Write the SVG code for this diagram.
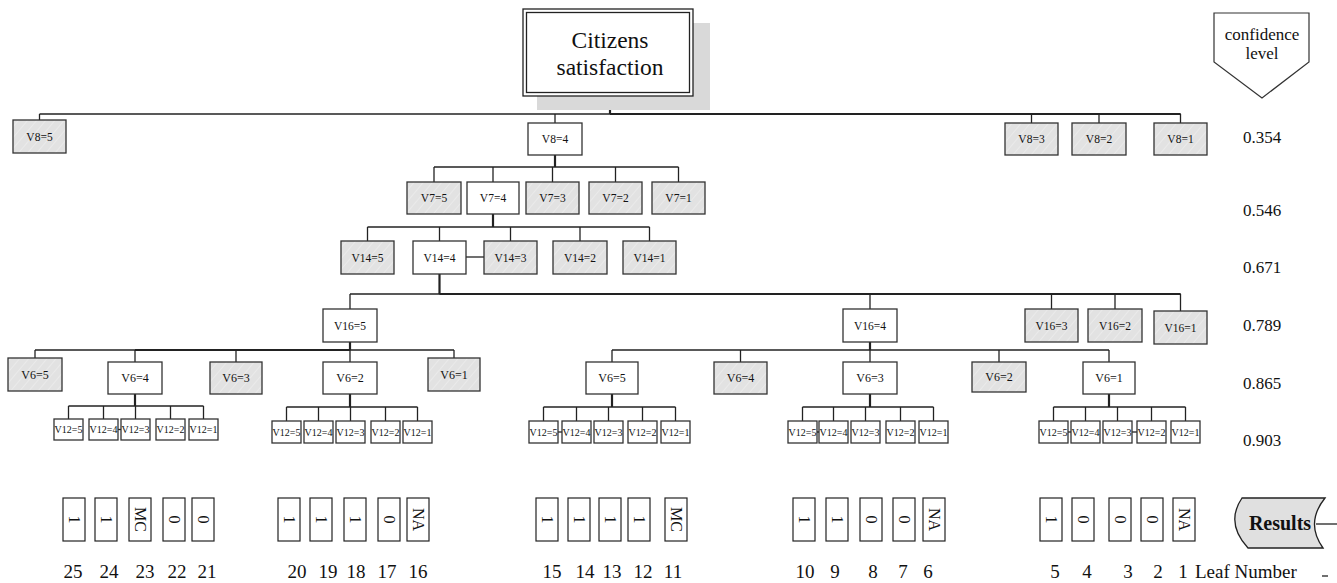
<svg xmlns="http://www.w3.org/2000/svg" width="1337" height="583" viewBox="0 0 1337 583">
<defs>
<pattern id="hatch" patternUnits="userSpaceOnUse" width="7" height="7" patternTransform="rotate(40)">
<rect width="7" height="7" fill="#e2e2e2"/>
<line x1="0" y1="0" x2="0" y2="7" stroke="#f3f3f3" stroke-width="1"/>
</pattern>
<style>
.w{fill:#fff;stroke:#333;stroke-width:1.3}
.h{fill:url(#hatch);stroke:#333;stroke-width:1.3}
.r{fill:#fff;stroke:#222;stroke-width:1.2}
text{font-family:"Liberation Serif","Times New Roman",serif;fill:#111}
.t{font-size:11.5px;text-anchor:middle}
.t6{font-size:12px;text-anchor:middle}
.t12{font-size:10px;text-anchor:middle}
.rt{font-size:16px;text-anchor:middle;dominant-baseline:central}
.n{font-size:19px;text-anchor:middle}
.c{font-size:17px}
#connectors line,#connectors polyline{stroke:#222;stroke-width:1.3;fill:none}
#connectors .k{stroke-width:2.2}
</style>
</defs>
<rect width="1337" height="583" fill="#fff"/>

<g id="connectors">
<line class="k" x1="610" y1="96" x2="610" y2="114"/>
<line x1="39.5" y1="114" x2="1180.5" y2="114"/>
<line class="k" x1="610" y1="114" x2="1180.5" y2="114"/>
<line x1="39.5" y1="114" x2="39.5" y2="120"/>
<line x1="555" y1="114" x2="555" y2="123"/>
<line x1="1031.5" y1="114" x2="1031.5" y2="123"/>
<line x1="1099" y1="114" x2="1099" y2="123"/>
<line x1="1180.5" y1="114" x2="1180.5" y2="123"/>

<line class="k" x1="555" y1="155" x2="555" y2="167"/>
<line x1="434" y1="167" x2="678.5" y2="167"/>
<line x1="434" y1="167" x2="434" y2="182"/>
<line x1="493" y1="167" x2="493" y2="182"/>
<line x1="552.5" y1="167" x2="552.5" y2="182"/>
<line x1="615.5" y1="167" x2="615.5" y2="182"/>
<line x1="678.5" y1="167" x2="678.5" y2="182"/>

<line class="k" x1="493" y1="214" x2="493" y2="227"/>
<line x1="367.5" y1="227" x2="649.5" y2="227"/>
<line x1="367.5" y1="227" x2="367.5" y2="241"/>
<line x1="439.5" y1="227" x2="439.5" y2="241"/>
<line x1="510.5" y1="227" x2="510.5" y2="241"/>
<line x1="580" y1="227" x2="580" y2="241"/>
<line x1="649.5" y1="227" x2="649.5" y2="241"/>
<line x1="466" y1="257" x2="484" y2="257"/>

<line class="k" x1="439.5" y1="274" x2="439.5" y2="294"/>
<line x1="350" y1="294" x2="1180.5" y2="294"/>
<line class="k" x1="439.5" y1="294" x2="1180.5" y2="294"/>
<line x1="350" y1="294" x2="350" y2="309"/>
<line x1="870" y1="294" x2="870" y2="309"/>
<line x1="1051.5" y1="294" x2="1051.5" y2="309"/>
<line x1="1115" y1="294" x2="1115" y2="309"/>
<line x1="1180.5" y1="294" x2="1180.5" y2="311"/>

<line class="k" x1="350" y1="342" x2="350" y2="350"/>
<line x1="35" y1="350" x2="454" y2="350"/>
<line class="k" x1="135" y1="350" x2="350" y2="350"/>
<line x1="35" y1="350" x2="35" y2="358"/>
<line x1="135" y1="350" x2="135" y2="362"/>
<line x1="236" y1="350" x2="236" y2="362"/>
<line x1="350" y1="350" x2="350" y2="362"/>
<line x1="454" y1="350" x2="454" y2="358"/>

<line class="k" x1="870" y1="342" x2="870" y2="350"/>
<line x1="612" y1="350" x2="1109" y2="350"/>
<line x1="612" y1="350" x2="612" y2="362"/>
<line x1="740.5" y1="350" x2="740.5" y2="362"/>
<line x1="870" y1="350" x2="870" y2="362"/>
<line x1="999" y1="350" x2="999" y2="362"/>
<line x1="1109" y1="350" x2="1109" y2="362"/>

<line class="k" x1="135" y1="394" x2="135" y2="406"/>
<line x1="68.5" y1="406" x2="203.5" y2="406"/>
<line x1="68.5" y1="406" x2="68.5" y2="419"/>
<line x1="103.5" y1="406" x2="103.5" y2="419"/>
<line x1="135.5" y1="406" x2="135.5" y2="419"/>
<line x1="170.5" y1="406" x2="170.5" y2="419"/>
<line x1="203.5" y1="406" x2="203.5" y2="419"/>
<line x1="118" y1="429.5" x2="121" y2="429.5"/>

<line class="k" x1="350" y1="394" x2="350" y2="407"/>
<line x1="286.5" y1="407" x2="417.5" y2="407"/>
<line x1="286.5" y1="407" x2="286.5" y2="421"/>
<line x1="318.5" y1="407" x2="318.5" y2="421"/>
<line x1="350.5" y1="407" x2="350.5" y2="421"/>
<line x1="385.5" y1="407" x2="385.5" y2="421"/>
<line x1="417.5" y1="407" x2="417.5" y2="421"/>

<line class="k" x1="612" y1="394" x2="612" y2="407"/>
<line x1="543.5" y1="407" x2="675.5" y2="407"/>
<line x1="543.5" y1="407" x2="543.5" y2="421"/>
<line x1="576.5" y1="407" x2="576.5" y2="421"/>
<line x1="608.5" y1="407" x2="608.5" y2="421"/>
<line x1="642.5" y1="407" x2="642.5" y2="421"/>
<line x1="675.5" y1="407" x2="675.5" y2="421"/>
<line x1="558" y1="432" x2="562" y2="432"/>

<line class="k" x1="870" y1="394" x2="870" y2="407"/>
<line x1="802.5" y1="407" x2="933.5" y2="407"/>
<line x1="802.5" y1="407" x2="802.5" y2="421"/>
<line x1="833.5" y1="407" x2="833.5" y2="421"/>
<line x1="865.5" y1="407" x2="865.5" y2="421"/>
<line x1="900.5" y1="407" x2="900.5" y2="421"/>
<line x1="933.5" y1="407" x2="933.5" y2="421"/>
<line x1="817" y1="432" x2="819" y2="432"/>

<line class="k" x1="1109" y1="394" x2="1109" y2="407"/>
<line x1="1053.5" y1="407" x2="1185.5" y2="407"/>
<line x1="1053.5" y1="407" x2="1053.5" y2="421"/>
<line x1="1085.5" y1="407" x2="1085.5" y2="421"/>
<line x1="1117.5" y1="407" x2="1117.5" y2="421"/>
<line x1="1151.5" y1="407" x2="1151.5" y2="421"/>
<line x1="1185.5" y1="407" x2="1185.5" y2="421"/>
<line x1="1068" y1="432" x2="1071" y2="432"/>
<line x1="1132" y1="432" x2="1137" y2="432"/>

<line x1="1316" y1="524" x2="1337" y2="524"/>
<line x1="1322" y1="576" x2="1328" y2="576"/>
</g>

<g id="root">
<rect x="537" y="23" width="173" height="87" fill="#d9d9d9"/>
<rect x="523" y="9" width="170" height="87" fill="#fff" stroke="#222" stroke-width="1.3"/>
<rect x="526.5" y="12.5" width="163" height="80" fill="none" stroke="#222" stroke-width="1.3"/>
<text x="610" y="48" font-size="23.5" text-anchor="middle">Citizens</text>
<text x="610" y="75" font-size="23.5" text-anchor="middle">satisfaction</text>
</g>

<g id="confidence-level">
<polygon points="1214,13 1309,13 1309,62 1262,98 1214,62" fill="#fff" stroke="#333" stroke-width="1.2"/>
<text x="1262" y="40" font-size="17" text-anchor="middle">confidence</text>
<text x="1262" y="59" font-size="17" text-anchor="middle">level</text>
</g>

<g id="levels">
<text class="c" x="1243" y="143">0.354</text>
<text class="c" x="1243" y="216">0.546</text>
<text class="c" x="1243" y="273">0.671</text>
<text class="c" x="1243" y="331">0.789</text>
<text class="c" x="1243" y="389">0.865</text>
<text class="c" x="1243" y="446">0.903</text>
</g>

<g id="n-v8-5"><rect class="h" x="13" y="120" width="53" height="33"/><text class="t" x="39.5" y="140.5">V8=5</text></g>
<g id="n-v8-4"><rect class="w" x="528" y="123" width="54" height="32"/><text class="t" x="555" y="143">V8=4</text></g>
<g id="n-v8-3"><rect class="h" x="1005" y="123" width="53" height="32"/><text class="t" x="1031.5" y="143">V8=3</text></g>
<g id="n-v8-2"><rect class="h" x="1072" y="123" width="54" height="32"/><text class="t" x="1099" y="143">V8=2</text></g>
<g id="n-v8-1"><rect class="h" x="1154" y="123" width="53" height="32"/><text class="t" x="1180.5" y="143">V8=1</text></g>

<g id="n-v7-5"><rect class="h" x="407" y="182" width="54" height="32"/><text class="t" x="434" y="202">V7=5</text></g>
<g id="n-v7-4"><rect class="w" x="467" y="182" width="52" height="32"/><text class="t" x="493" y="202">V7=4</text></g>
<g id="n-v7-3"><rect class="h" x="526" y="182" width="53" height="32"/><text class="t" x="552.5" y="202">V7=3</text></g>
<g id="n-v7-2"><rect class="h" x="589" y="182" width="53" height="32"/><text class="t" x="615.5" y="202">V7=2</text></g>
<g id="n-v7-1"><rect class="h" x="652" y="182" width="53" height="32"/><text class="t" x="678.5" y="202">V7=1</text></g>

<g id="n-v14-5"><rect class="h" x="341" y="241" width="53" height="33"/><text class="t" x="367.5" y="261.5">V14=5</text></g>
<g id="n-v14-4"><rect class="w" x="413" y="241" width="53" height="33"/><text class="t" x="439.5" y="261.5">V14=4</text></g>
<g id="n-v14-3"><rect class="h" x="484" y="241" width="53" height="33"/><text class="t" x="510.5" y="261.5">V14=3</text></g>
<g id="n-v14-2"><rect class="h" x="553" y="241" width="54" height="33"/><text class="t" x="580" y="261.5">V14=2</text></g>
<g id="n-v14-1"><rect class="h" x="623" y="241" width="53" height="33"/><text class="t" x="649.5" y="261.5">V14=1</text></g>

<g id="n-v16-5"><rect class="w" x="323" y="309" width="54" height="33"/><text class="t" x="350" y="329.5">V16=5</text></g>
<g id="n-v16-4"><rect class="w" x="843" y="309" width="54" height="33"/><text class="t" x="870" y="329.5">V16=4</text></g>
<g id="n-v16-3"><rect class="h" x="1025" y="309" width="53" height="33"/><text class="t" x="1051.5" y="329.5">V16=3</text></g>
<g id="n-v16-2"><rect class="h" x="1088" y="309" width="54" height="33"/><text class="t" x="1115" y="329.5">V16=2</text></g>
<g id="n-v16-1"><rect class="h" x="1154" y="311" width="53" height="33"/><text class="t" x="1180.5" y="331.5">V16=1</text></g>

<g id="n-a-v6-5"><rect class="h" x="8" y="358" width="54" height="33"/><text class="t6" x="35" y="378.5">V6=5</text></g>
<g id="n-a-v6-4"><rect class="w" x="108" y="362" width="54" height="32"/><text class="t6" x="135" y="382">V6=4</text></g>
<g id="n-a-v6-3"><rect class="h" x="210" y="362" width="52" height="32"/><text class="t6" x="236" y="382">V6=3</text></g>
<g id="n-a-v6-2"><rect class="w" x="323" y="362" width="54" height="32"/><text class="t6" x="350" y="382">V6=2</text></g>
<g id="n-a-v6-1"><rect class="h" x="428" y="358" width="52" height="33"/><text class="t6" x="454" y="378.5">V6=1</text></g>

<g id="n-b-v6-5"><rect class="w" x="586" y="362" width="52" height="32"/><text class="t6" x="612" y="382">V6=5</text></g>
<g id="n-b-v6-4"><rect class="h" x="714" y="362" width="53" height="32"/><text class="t6" x="740.5" y="382">V6=4</text></g>
<g id="n-b-v6-3"><rect class="w" x="843" y="362" width="54" height="32"/><text class="t6" x="870" y="382">V6=3</text></g>
<g id="n-b-v6-2"><rect class="h" x="972" y="362" width="54" height="30"/><text class="t6" x="999" y="381">V6=2</text></g>
<g id="n-b-v6-1"><rect class="w" x="1083" y="362" width="52" height="32"/><text class="t6" x="1109" y="382">V6=1</text></g>

<g id="n-a-v12-5"><rect class="w" x="54" y="419" width="29" height="21"/><text class="t12" x="68.5" y="433">V12=5</text></g>
<g id="n-a-v12-4"><rect class="w" x="89" y="419" width="29" height="21"/><text class="t12" x="103.5" y="433">V12=4</text></g>
<g id="n-a-v12-3"><rect class="w" x="121" y="419" width="29" height="21"/><text class="t12" x="135.5" y="433">V12=3</text></g>
<g id="n-a-v12-2"><rect class="w" x="156" y="419" width="29" height="21"/><text class="t12" x="170.5" y="433">V12=2</text></g>
<g id="n-a-v12-1"><rect class="w" x="189" y="419" width="29" height="21"/><text class="t12" x="203.5" y="433">V12=1</text></g>

<g id="n-b-v12-5"><rect class="w" x="272" y="421" width="29" height="22"/><text class="t12" x="286.5" y="435.5">V12=5</text></g>
<g id="n-b-v12-4"><rect class="w" x="304" y="421" width="29" height="22"/><text class="t12" x="318.5" y="435.5">V12=4</text></g>
<g id="n-b-v12-3"><rect class="w" x="336" y="421" width="29" height="22"/><text class="t12" x="350.5" y="435.5">V12=3</text></g>
<g id="n-b-v12-2"><rect class="w" x="371" y="421" width="29" height="22"/><text class="t12" x="385.5" y="435.5">V12=2</text></g>
<g id="n-b-v12-1"><rect class="w" x="403" y="421" width="29" height="22"/><text class="t12" x="417.5" y="435.5">V12=1</text></g>

<g id="n-c-v12-5"><rect class="w" x="529" y="421" width="29" height="22"/><text class="t12" x="543.5" y="435.5">V12=5</text></g>
<g id="n-c-v12-4"><rect class="w" x="562" y="421" width="29" height="22"/><text class="t12" x="576.5" y="435.5">V12=4</text></g>
<g id="n-c-v12-3"><rect class="w" x="594" y="421" width="29" height="22"/><text class="t12" x="608.5" y="435.5">V12=3</text></g>
<g id="n-c-v12-2"><rect class="w" x="628" y="421" width="29" height="22"/><text class="t12" x="642.5" y="435.5">V12=2</text></g>
<g id="n-c-v12-1"><rect class="w" x="661" y="421" width="29" height="22"/><text class="t12" x="675.5" y="435.5">V12=1</text></g>

<g id="n-d-v12-5"><rect class="w" x="788" y="421" width="29" height="22"/><text class="t12" x="802.5" y="435.5">V12=5</text></g>
<g id="n-d-v12-4"><rect class="w" x="819" y="421" width="29" height="22"/><text class="t12" x="833.5" y="435.5">V12=4</text></g>
<g id="n-d-v12-3"><rect class="w" x="851" y="421" width="29" height="22"/><text class="t12" x="865.5" y="435.5">V12=3</text></g>
<g id="n-d-v12-2"><rect class="w" x="886" y="421" width="29" height="22"/><text class="t12" x="900.5" y="435.5">V12=2</text></g>
<g id="n-d-v12-1"><rect class="w" x="919" y="421" width="29" height="22"/><text class="t12" x="933.5" y="435.5">V12=1</text></g>

<g id="n-e-v12-5"><rect class="w" x="1039" y="421" width="29" height="22"/><text class="t12" x="1053.5" y="435.5">V12=5</text></g>
<g id="n-e-v12-4"><rect class="w" x="1071" y="421" width="29" height="22"/><text class="t12" x="1085.5" y="435.5">V12=4</text></g>
<g id="n-e-v12-3"><rect class="w" x="1103" y="421" width="29" height="22"/><text class="t12" x="1117.5" y="435.5">V12=3</text></g>
<g id="n-e-v12-2"><rect class="w" x="1137" y="421" width="29" height="22"/><text class="t12" x="1151.5" y="435.5">V12=2</text></g>
<g id="n-e-v12-1"><rect class="w" x="1171" y="421" width="29" height="22"/><text class="t12" x="1185.5" y="435.5">V12=1</text></g>

<g id="leaf-25"><rect class="r" x="63" y="498" width="22" height="43"/><text class="rt" x="74" y="519.5" transform="rotate(90 74 519.5)">1</text></g>
<g id="leaf-24"><rect class="r" x="95" y="498" width="22" height="43"/><text class="rt" x="106" y="519.5" transform="rotate(90 106 519.5)">1</text></g>
<g id="leaf-23"><rect class="r" x="129" y="498" width="22" height="43"/><text class="rt" x="140" y="519.5" transform="rotate(90 140 519.5)">MC</text></g>
<g id="leaf-22"><rect class="r" x="163" y="498" width="22" height="43"/><text class="rt" x="174" y="519.5" transform="rotate(90 174 519.5)">0</text></g>
<g id="leaf-21"><rect class="r" x="192" y="498" width="22" height="43"/><text class="rt" x="203" y="519.5" transform="rotate(90 203 519.5)">0</text></g>

<g id="leaf-20"><rect class="r" x="278" y="498" width="22" height="43"/><text class="rt" x="289" y="519.5" transform="rotate(90 289 519.5)">1</text></g>
<g id="leaf-19"><rect class="r" x="310" y="498" width="22" height="43"/><text class="rt" x="321" y="519.5" transform="rotate(90 321 519.5)">1</text></g>
<g id="leaf-18"><rect class="r" x="344" y="498" width="22" height="43"/><text class="rt" x="355" y="519.5" transform="rotate(90 355 519.5)">1</text></g>
<g id="leaf-17"><rect class="r" x="378" y="498" width="22" height="43"/><text class="rt" x="389" y="519.5" transform="rotate(90 389 519.5)">0</text></g>
<g id="leaf-16"><rect class="r" x="407" y="498" width="22" height="43"/><text class="rt" x="418" y="519.5" transform="rotate(90 418 519.5)">NA</text></g>

<g id="leaf-15"><rect class="r" x="536" y="498" width="22" height="43"/><text class="rt" x="547" y="519.5" transform="rotate(90 547 519.5)">1</text></g>
<g id="leaf-14"><rect class="r" x="568" y="498" width="22" height="43"/><text class="rt" x="579" y="519.5" transform="rotate(90 579 519.5)">1</text></g>
<g id="leaf-13"><rect class="r" x="599" y="498" width="22" height="43"/><text class="rt" x="610" y="519.5" transform="rotate(90 610 519.5)">1</text></g>
<g id="leaf-12"><rect class="r" x="628" y="498" width="22" height="43"/><text class="rt" x="639" y="519.5" transform="rotate(90 639 519.5)">1</text></g>
<g id="leaf-11"><rect class="r" x="665" y="498" width="22" height="43"/><text class="rt" x="676" y="519.5" transform="rotate(90 676 519.5)">MC</text></g>

<g id="leaf-10"><rect class="r" x="793" y="498" width="22" height="43"/><text class="rt" x="804" y="519.5" transform="rotate(90 804 519.5)">1</text></g>
<g id="leaf-9"><rect class="r" x="826" y="498" width="22" height="43"/><text class="rt" x="837" y="519.5" transform="rotate(90 837 519.5)">1</text></g>
<g id="leaf-8"><rect class="r" x="860" y="498" width="22" height="43"/><text class="rt" x="871" y="519.5" transform="rotate(90 871 519.5)">0</text></g>
<g id="leaf-7"><rect class="r" x="893" y="498" width="22" height="43"/><text class="rt" x="904" y="519.5" transform="rotate(90 904 519.5)">0</text></g>
<g id="leaf-6"><rect class="r" x="923" y="498" width="22" height="43"/><text class="rt" x="934" y="519.5" transform="rotate(90 934 519.5)">NA</text></g>

<g id="leaf-5"><rect class="r" x="1040" y="498" width="22" height="43"/><text class="rt" x="1051" y="519.5" transform="rotate(90 1051 519.5)">1</text></g>
<g id="leaf-4"><rect class="r" x="1072" y="498" width="22" height="43"/><text class="rt" x="1083" y="519.5" transform="rotate(90 1083 519.5)">0</text></g>
<g id="leaf-3"><rect class="r" x="1109" y="498" width="22" height="43"/><text class="rt" x="1120" y="519.5" transform="rotate(90 1120 519.5)">0</text></g>
<g id="leaf-2"><rect class="r" x="1141" y="498" width="22" height="43"/><text class="rt" x="1152" y="519.5" transform="rotate(90 1152 519.5)">0</text></g>
<g id="leaf-1"><rect class="r" x="1173" y="498" width="22" height="43"/><text class="rt" x="1184" y="519.5" transform="rotate(90 1184 519.5)">NA</text></g>

<g id="leaf-numbers">
<text class="n" x="73" y="578">25</text>
<text class="n" x="109" y="578">24</text>
<text class="n" x="145" y="578">23</text>
<text class="n" x="177" y="578">22</text>
<text class="n" x="207" y="578">21</text>
<text class="n" x="297" y="578">20</text>
<text class="n" x="328" y="578">19</text>
<text class="n" x="356" y="578">18</text>
<text class="n" x="387" y="578">17</text>
<text class="n" x="418" y="578">16</text>
<text class="n" x="552" y="578">15</text>
<text class="n" x="585" y="578">14</text>
<text class="n" x="612" y="578">13</text>
<text class="n" x="643" y="578">12</text>
<text class="n" x="673" y="578">11</text>
<text class="n" x="805" y="578">10</text>
<text class="n" x="835" y="578">9</text>
<text class="n" x="873" y="578">8</text>
<text class="n" x="903" y="578">7</text>
<text class="n" x="928" y="578">6</text>
<text class="n" x="1055" y="578">5</text>
<text class="n" x="1087" y="578">4</text>
<text class="n" x="1128" y="578">3</text>
<text class="n" x="1158" y="578">2</text>
<text class="n" x="1183" y="578">1</text>
<text x="1195" y="578" font-size="19">Leaf Number</text>
</g>

<g id="results">
<path d="M1242,498 L1325,498 Q1305,523 1323,548 L1248,548 Q1225,523 1242,498 Z" fill="#e0e0e0" stroke="#222" stroke-width="1.3"/>
<text x="1280" y="530" font-size="20" font-weight="bold" text-anchor="middle">Results</text>
</g>
</svg>
